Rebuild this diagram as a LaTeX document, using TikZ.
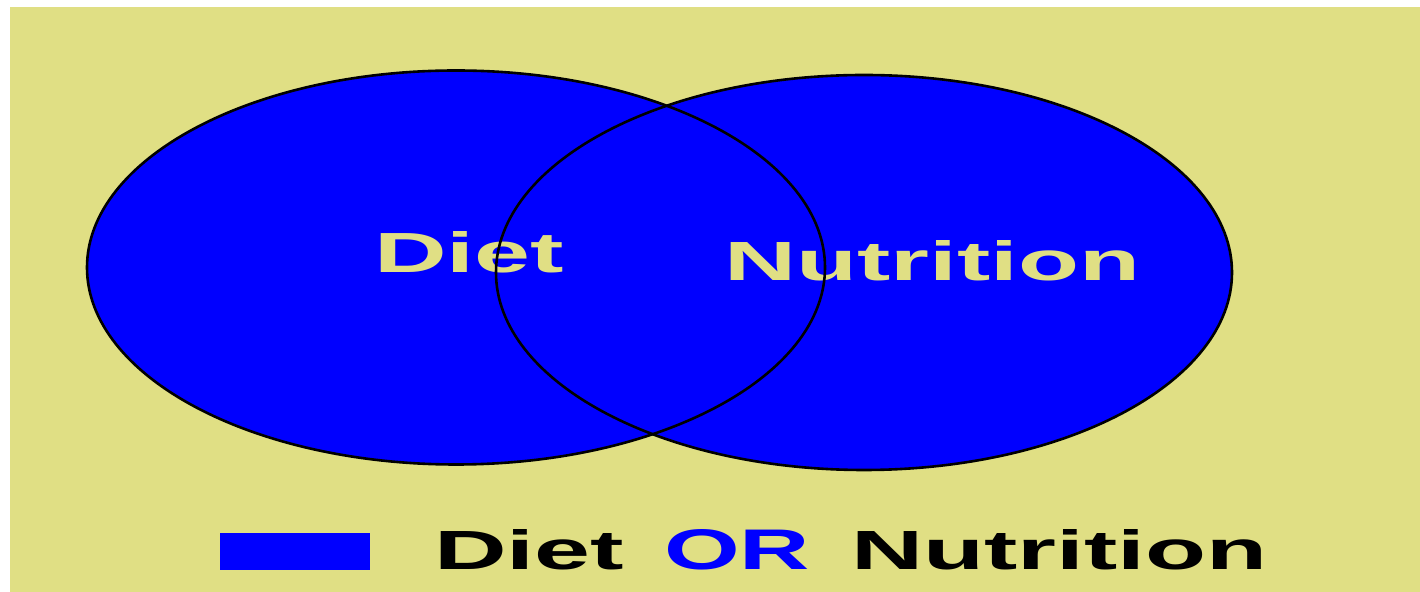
\documentclass[tikz,border=0pt]{standalone}
\usepackage{fontspec}
\setmainfont{Liberation Sans}
\usepackage{graphicx}
\definecolor{khaki}{HTML}{E0DF84}
\definecolor{setblue}{HTML}{0000FF}
\begin{document}
\begin{tikzpicture}[x=0.5pt,y=-0.5pt,
  setfill/.style={fill=setblue},
  setedge/.style={draw=black,line width=1.3pt},
  lbl/.style={inner sep=0pt,outer sep=0pt,anchor=base west}]
\useasboundingbox (0,0) rectangle (1420,592);
\fill[white] (0,0) rectangle (1420,592);
\fill[khaki] (10,7) rectangle (1420,592);
% the two sets, filled first so that both outlines stay visible
\path[setfill] (456,267.5) ellipse [x radius=369, y radius=197];
\path[setfill] (864,272.5) ellipse [x radius=368, y radius=197.5];
% set labels
\node[lbl,text=khaki] (diet) at (374,273) {\resizebox{95pt}{20.5pt}{\bfseries Diet}};
\node[lbl,text=khaki] (nutrition) at (724,281) {\resizebox{208pt}{20pt}{\bfseries Nutrition}};
% outlines
\path[setedge] (456,267.5) ellipse [x radius=369, y radius=197];
\path[setedge] (864,272.5) ellipse [x radius=368, y radius=197.5];
% legend
\path[setfill] (220,533) rectangle (370,570);
\node[lbl,text=black] (lgdiet) at (434,570) {\resizebox{95pt}{20pt}{\bfseries Diet}};
\node[lbl,text=setblue] (lgor) at (664,570) {\resizebox{73pt}{20pt}{\bfseries OR}};
\node[lbl,text=black] (lgnut) at (851,570) {\resizebox{208pt}{20pt}{\bfseries Nutrition}};
\end{tikzpicture}
\end{document}
